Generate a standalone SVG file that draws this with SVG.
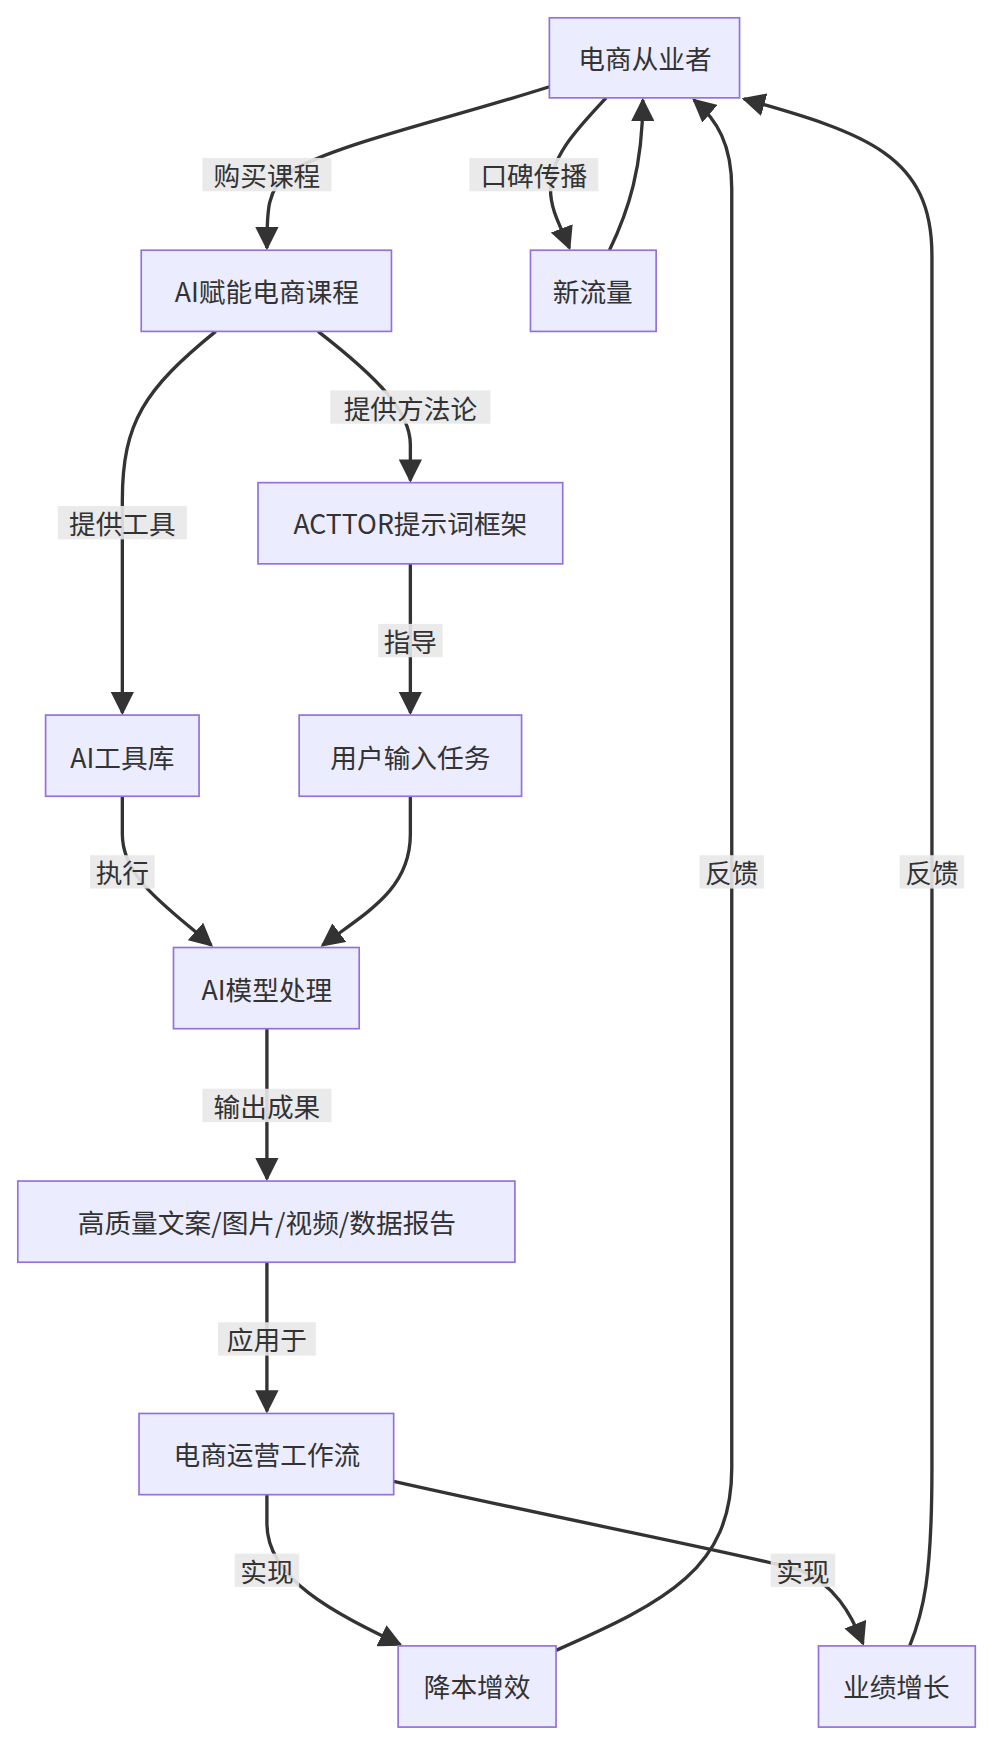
<svg xmlns="http://www.w3.org/2000/svg" width="992" height="1742" viewBox="0 0 992 1742">
<style>
.n rect{fill:#ECECFF;stroke:#9370DB;stroke-width:1.5}
text{font-family:"Noto Sans CJK SC","Noto Sans",sans-serif;font-size:24px;fill:#333;text-anchor:middle;dominant-baseline:central}
.e path{fill:none;stroke:#333;stroke-width:3;marker-end:url(#a)}
.l rect{fill:#e8e8e8;opacity:0.9}
</style>
<defs><marker id="a" viewBox="0 0 10 10" refX="9" refY="5" markerWidth="7" markerHeight="7" orient="auto" markerUnits="strokeWidth"><path d="M0,0 L10,5 L0,10 z" fill="#333"/></marker></defs>
<rect width="992" height="1742" fill="#fff"/>
<g transform="scale(1.1121)">
<g class="e">
<path d="M494,78 C400,108 300,130 260,155 C240,170 240,190 240,223"/>
<path d="M545,88 C520,115 495,140 495,170 C495,190 505,205 512,223"/>
<path d="M548,225 C565,190 578,150 578,90"/>
<path d="M194,298 C130,350 110,380 110,450 L110,641"/>
<path d="M286,298 C340,340 369,370 369,400 L369,432"/>
<path d="M369,507 L369,641"/>
<path d="M110,716 L110,750 C110,790 150,815 190,850"/>
<path d="M369,716 L369,750 C369,800 330,820 290,850"/>
<path d="M240,925 L240,1060"/>
<path d="M240,1135 L240,1269"/>
<path d="M240,1344 L240,1370 C240,1420 300,1450 360,1479"/>
<path d="M354,1332 C500,1365 680,1400 720,1412 C750,1425 765,1450 776,1478"/>
<path d="M500,1484 C600,1440 658,1410 658,1320 L658,170 C658,130 645,108 624,90"/>
<path d="M818,1480 C830,1450 838,1420 838,1320 L838,230 C838,140 780,120 669,89"/>
</g>
<g class="l">
<rect x="182" y="142" width="116" height="30"/><text x="240" y="157">购买课程</text>
<rect x="422" y="142" width="116" height="30"/><text x="480" y="157">口碑传播</text>
<rect x="52" y="455" width="116" height="30"/><text x="110" y="470">提供工具</text>
<rect x="297" y="351" width="144" height="30"/><text x="369" y="366">提供方法论</text>
<rect x="340" y="561" width="58" height="30"/><text x="369" y="576">指导</text>
<rect x="81" y="769" width="58" height="30"/><text x="110" y="784">执行</text>
<rect x="182" y="979" width="116" height="30"/><text x="240" y="994">输出成果</text>
<rect x="196" y="1189" width="88" height="30"/><text x="240" y="1204">应用于</text>
<rect x="211" y="1397" width="58" height="30"/><text x="240" y="1412">实现</text>
<rect x="693" y="1397" width="58" height="30"/><text x="722" y="1412">实现</text>
<rect x="629" y="769" width="58" height="30"/><text x="658" y="784">反馈</text>
<rect x="809" y="769" width="58" height="30"/><text x="838" y="784">反馈</text>
</g>
<g id="n1" class="n"><rect x="494" y="16" width="171" height="72"/><text x="580" y="52">电商从业者</text></g>
<g id="n2" class="n"><rect x="477" y="225" width="113" height="73"/><text x="533" y="261">新流量</text></g>
<g id="n3" class="n"><rect x="127" y="225" width="225" height="73"/><text x="240" y="261">AI赋能电商课程</text></g>
<g id="n4" class="n"><rect x="232" y="434" width="274" height="73"/><text x="369" y="470">ACTTOR提示词框架</text></g>
<g id="n5" class="n"><rect x="41" y="643" width="138" height="73"/><text x="110" y="680">AI工具库</text></g>
<g id="n6" class="n"><rect x="269" y="643" width="200" height="73"/><text x="369" y="680">用户输入任务</text></g>
<g id="n7" class="n"><rect x="156" y="852" width="167" height="73"/><text x="240" y="889">AI模型处理</text></g>
<g id="n8" class="n"><rect x="16" y="1062" width="447" height="73"/><text x="240" y="1098">高质量文案/图片/视频/数据报告</text></g>
<g id="n9" class="n"><rect x="125" y="1271" width="229" height="73"/><text x="240" y="1307">电商运营工作流</text></g>
<g id="n10" class="n"><rect x="358" y="1480" width="142" height="73"/><text x="429" y="1516">降本增效</text></g>
<g id="n11" class="n"><rect x="736" y="1480" width="141" height="73"/><text x="806" y="1516">业绩增长</text></g>
</g>
</svg>
